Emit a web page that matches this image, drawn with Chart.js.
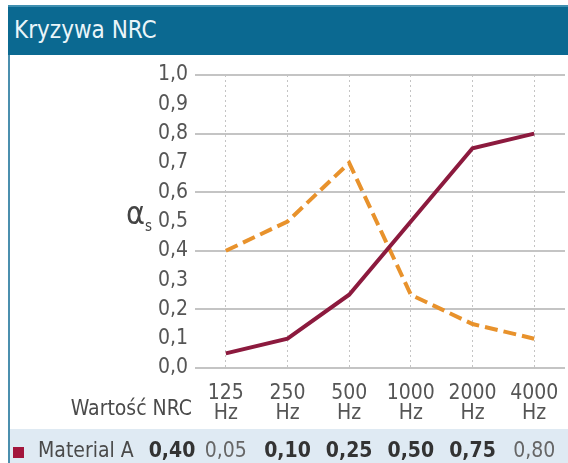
<!DOCTYPE html>
<html>
<head>
<meta charset="utf-8">
<script src="https://cdn.jsdelivr.net/npm/chart.js@4.4.0/dist/chart.umd.min.js"></script>
<style>
  body { margin: 0; background: #fff; }
  #page { position: relative; width: 568px; height: 463px; overflow: hidden; font-family: "Liberation Sans Narrow", "DejaVu Sans Condensed", sans-serif; }
  #header { position: absolute; left: 8px; top: 5px; right: 0; height: 48px; background: #0b6991; border-top: 2px solid #3f8fb0; }
  #header span { position: absolute; left: 6px; top: 9px; color: #eaf5f9; font-size: 24px; }
  #leftline { position: absolute; left: 8px; top: 53px; width: 2px; bottom: 0; background: #4b8fae; }
  #band { position: absolute; left: 10px; right: 0; top: 429px; bottom: 0; background: #dfeaf3; }
  #swatch { position: absolute; left: 13px; top: 447px; width: 11px; height: 11px; background: #a3163c; }
  #alpha { position: absolute; left: 126px; top: 194px; font-size: 32px; color: #444; }
  #alpha sub { font-size: 15px; }
  canvas { position: absolute; left: 0; top: 0; }
</style>
</head>
<body>
<div id="page">
  <div id="band"></div>
  <div id="leftline"></div>
  <div id="swatch"></div>
  <canvas id="chart" width="568" height="463"></canvas>
  <div id="header"><span>Kryzywa NRC</span></div>
  <div id="alpha">α<sub>s</sub></div>
</div>
<script>
const frequencies = ['125', '250', '500', '1000', '2000', '4000'];
const materialA = [0.05, 0.10, 0.25, 0.50, 0.75, 0.80];
const materialB = [0.40, 0.50, 0.70, 0.25, 0.15, 0.10];
const nrcLabel = 'Wartość NRC';
const rowName = 'Material A';
const rowNrc = '0,40';
const rowBold = [false, true, true, true, true, false];

const comma = v => v.toFixed(2).replace('.', ',');
const narrow = '"Liberation Sans Narrow", "DejaVu Sans Condensed", sans-serif';

// draws the "Wartość NRC" caption and the Material A value row under the axis
const tableRow = {
    id: 'tableRow',
    afterDraw(chart) {
        const ctx = chart.ctx;
        const x = chart.scales.x;
        ctx.save();
        ctx.textBaseline = 'middle';
        ctx.fillStyle = '#4a4a4a';
        ctx.textAlign = 'right';
        ctx.font = '21px ' + narrow;
        ctx.fillText(nrcLabel, 192, 410);
        ctx.textAlign = 'left';
        ctx.fillText(rowName, 38, 452);
        ctx.textAlign = 'center';
        ctx.font = 'bold 21px ' + narrow;
        ctx.fillStyle = '#333';
        ctx.fillText(rowNrc, 172, 452);
        materialA.forEach((v, i) => {
            ctx.font = (rowBold[i] ? 'bold ' : '') + '21px ' + narrow;
            ctx.fillStyle = rowBold[i] ? '#333' : '#666';
            ctx.fillText(comma(v), x.getPixelForValue(i), 452);
        });
        ctx.restore();
    }
};

new Chart(document.getElementById('chart').getContext('2d'), {
    type: 'line',
    data: {
        labels: frequencies.map(f => [f, 'Hz']),
        datasets: [
            {
                label: 'Material A',
                data: materialA,
                borderColor: '#8c1a3e',
                borderWidth: 4,
                pointRadius: 0,
                tension: 0
            },
            {
                label: 'Material B',
                data: materialB,
                borderColor: '#e8922c',
                borderWidth: 4,
                borderDash: [13, 6],
                pointRadius: 0,
                tension: 0
            }
        ]
    },
    options: {
        responsive: false,
        animation: false,
        layout: { padding: { left: 0, right: 3, top: 75, bottom: 0 } },
        plugins: { legend: { display: false }, tooltip: { enabled: false } },
        scales: {
            x: {
                offset: true,
                afterFit: s => { s.height = 95; s.paddingLeft = 0; s.paddingRight = 0; },
                grid: { color: '#c4c4c4', lineWidth: 1, drawTicks: false, offset: false },
                border: { display: false, dash: [2, 3] },
                ticks: {
                    color: '#555',
                    padding: 16,
                    maxRotation: 0,
                    font: { family: narrow, size: 21, lineHeight: 0.95 }
                }
            },
            y: {
                min: 0,
                max: 1,
                afterFit: s => { s.width = 195; },
                grid: {
                    color: ctx => (ctx.index % 2 === 0 ? '#c4c4c4' : 'rgba(0,0,0,0)'),
                    lineWidth: 2,
                    drawTicks: false
                },
                border: { display: false },
                ticks: {
                    stepSize: 0.1,
                    color: '#555',
                    padding: 7,
                    font: { family: narrow, size: 21 },
                    callback: v => v.toFixed(1).replace('.', ',')
                }
            }
        }
    },
    plugins: [tableRow]
});
</script>
</body>
</html>
